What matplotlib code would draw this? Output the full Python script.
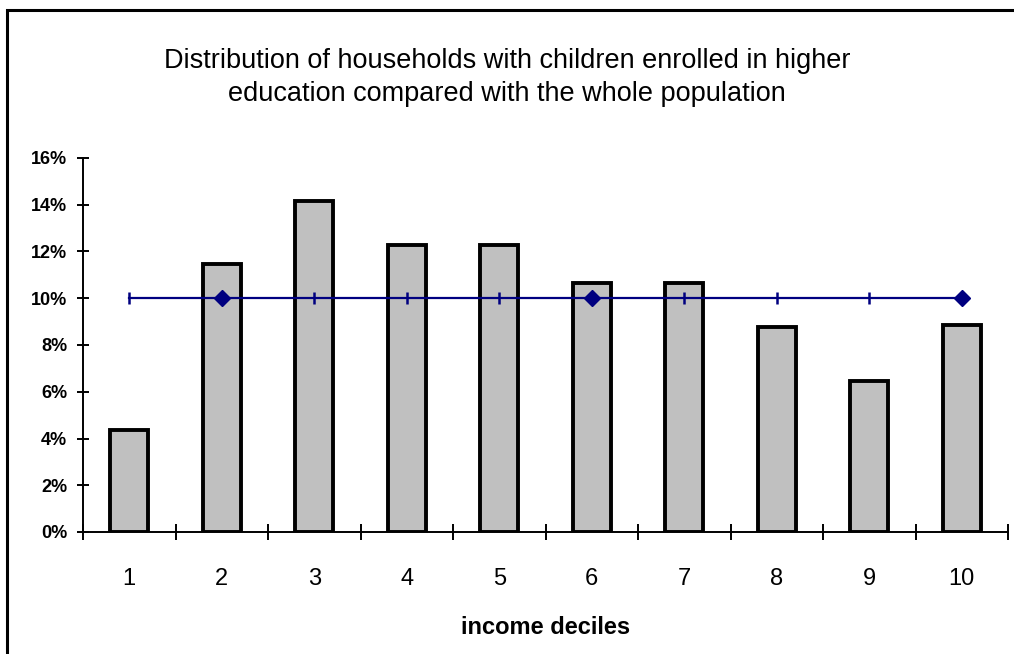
import matplotlib
matplotlib.use("Agg")
from matplotlib import pyplot as plt
from matplotlib.patches import Rectangle
from matplotlib.ticker import FixedLocator, FuncFormatter
import numpy as np

plt.rcParams['font.family'] = ['Liberation Sans', 'DejaVu Sans']

deciles = [1, 2, 3, 4, 5, 6, 7, 8, 9, 10]
students = [4.36, 11.47, 14.18, 12.28, 12.28, 10.65, 10.65, 8.79, 6.48, 8.86]
population = [10, 10, 10, 10, 10, 10, 10, 10, 10, 10]
diamond_at = [2, 6, 10]

fig = plt.figure(figsize=(10.14, 6.54), dpi=100)
ax = fig.add_axes([83 / 1014, 1 - 532 / 654, 925 / 1014, 374 / 654])

x = np.array(deciles)
ax.bar(x, students, width=0.41, color="#c0c0c0", edgecolor="black",
       linewidth=2.8, zorder=2)

# whole population share: flat line, mostly tick-style markers
pop = np.array(population)
ax.plot(x, pop, color="#000080", linewidth=1.6, zorder=3)
plain = [i for i, d in enumerate(deciles) if d not in diamond_at]
diam = [i for i, d in enumerate(deciles) if d in diamond_at]
ax.plot(x[plain], pop[plain], linestyle="none", marker="|", markersize=9,
        markeredgewidth=1.8, color="#000080", zorder=4)
ax.plot(x[diam], pop[diam], linestyle="none", marker="D", markersize=8,
        color="#000080", zorder=4)

ax.set_xlim(0.5, 10.5)
ax.set_ylim(0, 16)
ax.set_yticks(np.arange(0, 17, 2))
ax.yaxis.set_major_formatter(FuncFormatter(lambda v, p: f"{int(v)}%"))
ax.set_xticks(x)
ax.set_xticklabels([str(d) for d in deciles])
ax.xaxis.set_minor_locator(FixedLocator(np.arange(0.5, 11, 1)))

for s in ("top", "right"):
    ax.spines[s].set_visible(False)
for s in ("left", "bottom"):
    ax.spines[s].set_linewidth(1.4)

ax.tick_params(axis="y", direction="inout", length=9, width=1.4,
               labelsize=13, pad=7)
for lab in ax.get_yticklabels():
    lab.set_fontweight("bold")
ax.tick_params(axis="x", which="major", length=0, labelsize=17, pad=26)
ax.tick_params(axis="x", which="minor", direction="inout", length=12, width=1.4)

ax.set_xlabel("income deciles", fontsize=17, fontweight="bold", labelpad=19)

fig.text(0.5, 1 - 61 / 654, "Distribution of households with children enrolled in higher",
         ha="center", va="center", fontsize=19.5)
fig.text(0.5, 1 - 94 / 654, "education compared with the whole population",
         ha="center", va="center", fontsize=19.5)

# chart border, running off the right and bottom edges
fig.patches.append(Rectangle((7 / 1014, -0.2), 1.2, 1.2 - 10 / 654,
                             transform=fig.transFigure, fill=False,
                             edgecolor="black", linewidth=2.2))

fig.savefig("out.png", dpi=100)
